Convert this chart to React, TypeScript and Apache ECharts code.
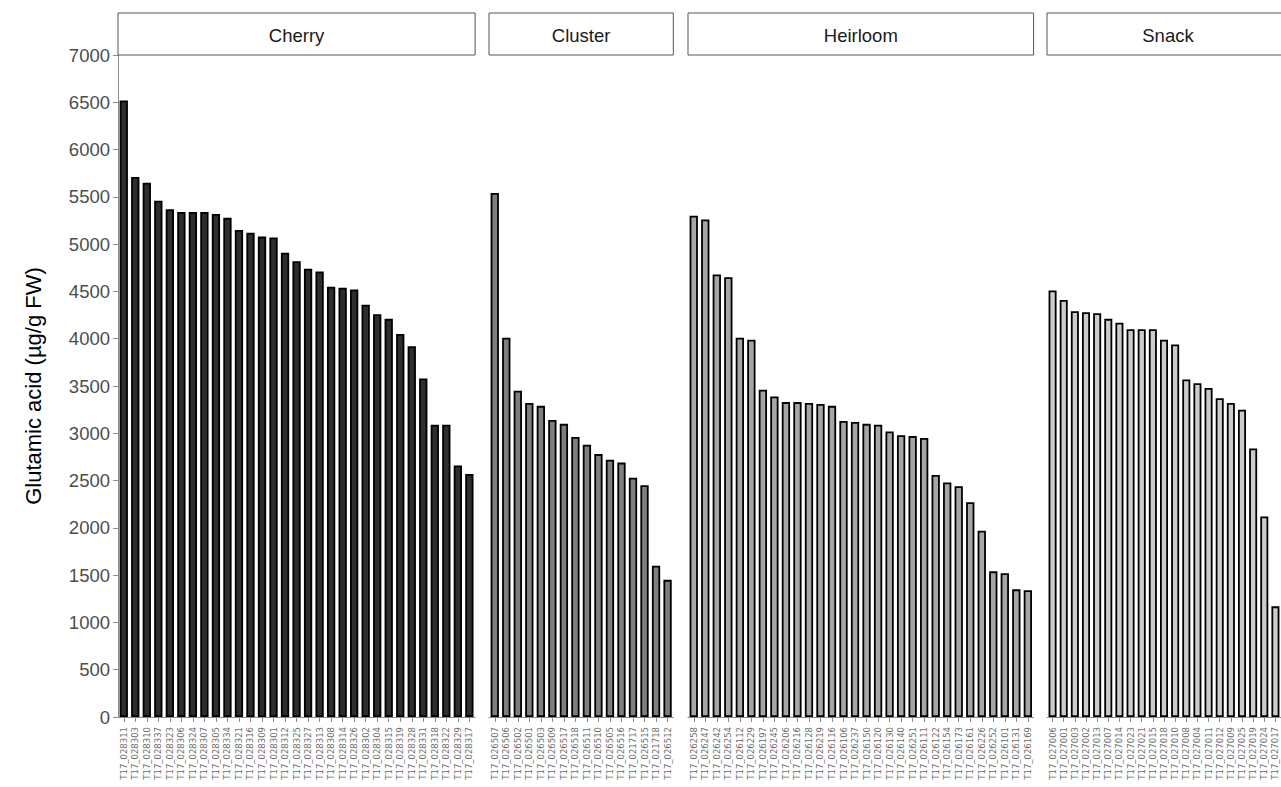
import React, { useEffect, useRef } from "react";
import * as echarts from "echarts";

const panelNames = ["Cherry", "Cluster", "Heirloom", "Snack"];
const panelColors = ["#2e2e2e", "#7f7f7f", "#a6a6a6", "#cccccc"];

const cherryLabels = ["T17_028311","T17_028303","T17_028310","T17_028337","T17_028323","T17_028306","T17_028324","T17_028307","T17_028305","T17_028334","T17_028321","T17_028316","T17_028309","T17_028301","T17_028312","T17_028325","T17_028327","T17_028313","T17_028308","T17_028314","T17_028326","T17_028302","T17_028304","T17_028315","T17_028319","T17_028328","T17_028331","T17_028318","T17_028322","T17_028329","T17_028317"];
const cherryValues = [6520,5710,5650,5460,5370,5340,5340,5340,5320,5280,5150,5120,5080,5070,4910,4820,4740,4710,4550,4540,4520,4360,4260,4210,4050,3920,3580,3090,3090,2660,2570];

const clusterLabels = ["T17_026507","T17_026506","T17_026502","T17_026501","T17_026503","T17_026509","T17_026517","T17_026518","T17_026511","T17_026510","T17_026505","T17_026516","T17_021717","T17_026515","T17_021718","T17_026512"];
const clusterValues = [5540,4010,3450,3320,3290,3140,3100,2960,2880,2780,2720,2690,2530,2450,1600,1450];

const heirloomLabels = ["T17_026258","T17_026247","T17_026242","T17_026254","T17_026112","T17_026229","T17_026197","T17_026245","T17_026206","T17_026216","T17_026128","T17_026219","T17_026116","T17_026106","T17_026237","T17_026150","T17_026120","T17_026130","T17_026140","T17_026251","T17_026111","T17_026122","T17_026154","T17_026173","T17_026161","T17_026226","T17_026252","T17_026101","T17_026131","T17_026169"];
const heirloomValues = [5300,5260,4680,4650,4010,3990,3460,3390,3330,3330,3320,3310,3290,3130,3120,3100,3090,3020,2980,2970,2950,2560,2480,2440,2270,1970,1540,1520,1350,1340];

const snackLabels = ["T17_027006","T17_027001","T17_027003","T17_027002","T17_027013","T17_027007","T17_027014","T17_027023","T17_027021","T17_027015","T17_027018","T17_027010","T17_027008","T17_027004","T17_027011","T17_027012","T17_027009","T17_027025","T17_027019","T17_027024","T17_027017"];
const snackValues = [4510,4410,4290,4280,4270,4210,4170,4100,4100,4100,3990,3940,3570,3530,3480,3370,3320,3250,2840,2120,1170];

const yTicks = { min: 0, max: 7000, interval: 500 };
const yTitle = "Glutamic acid (µg/g FW)";

const FONT = "Liberation Sans, Arial, sans-serif";

export default function App() {
  const ref = useRef<HTMLDivElement>(null);
  useEffect(() => {
    if (!ref.current) return;
    const chart = echarts.init(ref.current, null, { renderer: "svg" });
    const labels = [cherryLabels, clusterLabels, heirloomLabels, snackLabels];
    const values = [cherryValues, clusterValues, heirloomValues, snackValues];
    const band = 11.52;
    const lefts = [118, 489, 688, 1047];
    const top = 55;
    const bottomY = 717;
    const grids = labels.map((l, i) => ({
      left: lefts[i],
      top,
      width: l.length * band,
      height: bottomY - top,
      containLabel: false,
    }));
    const xAxes = labels.map((l, i) => ({
      type: "category",
      gridIndex: i,
      data: l,
      axisLine: { show: true, lineStyle: { color: "#8c8c8c", width: 1 } },
      axisTick: { show: true, alignWithLabel: true, length: 5, lineStyle: { color: "#8c8c8c" } },
      axisLabel: { rotate: 90, fontSize: 8.5, color: "#6b6b6b", margin: 10, fontFamily: "DejaVu Sans, sans-serif", interval: 0 },
      splitLine: { show: false },
    }));
    const yAxes = labels.map((_, i) => ({
      type: "value",
      gridIndex: i,
      min: yTicks.min,
      max: yTicks.max,
      interval: yTicks.interval,
      axisLine: { show: i === 0, lineStyle: { color: "#8c8c8c", width: 1 } },
      axisTick: { show: i === 0, length: 5, lineStyle: { color: "#8c8c8c" } },
      axisLabel: {
        show: i === 0,
        fontSize: 18.5,
        color: "#4d4d4d",
        fontFamily: FONT,
        margin: 8,
        formatter: (v: number) => String(v),
      },
      splitLine: { show: false },
      name: i === 0 ? yTitle : "",
      nameLocation: "middle",
      nameGap: 74,
      nameTextStyle: { fontSize: 22, color: "#000000", fontFamily: FONT },
    }));
    const series = values.map((v, i) => ({
      type: "bar",
      xAxisIndex: i,
      yAxisIndex: i,
      data: v,
      barWidth: "72%",
      itemStyle: { color: panelColors[i], borderColor: "#000000", borderWidth: 1.8 },
    }));
    const graphic: any[] = [];
    labels.forEach((l, i) => {
      const w = i === 3 ? 260 : l.length * band;
      graphic.push({
        type: "rect",
        shape: { x: lefts[i], y: 13, width: w, height: top - 13 },
        style: { fill: "#ffffff", stroke: "#555555", lineWidth: 1 },
        z: 10,
      });
      const cx = i === 3 ? lefts[i] + (l.length * band) / 2 : lefts[i] + w / 2;
      graphic.push({
        type: "text",
        x: cx,
        y: 35,
        style: { text: panelNames[i], fontSize: 18.5, fill: "#1a1a1a", fontFamily: FONT, textAlign: "center", textVerticalAlign: "middle" },
        z: 11,
      });
    });
    chart.setOption({
      animation: false,
      backgroundColor: "#ffffff",
      grid: grids,
      xAxis: xAxes,
      yAxis: yAxes,
      series,
      graphic,
    });
    return () => chart.dispose();
  }, []);
  return <div ref={ref} style={{ position: "fixed", left: 0, top: 0, width: 1281, height: 787 }} />;
}
